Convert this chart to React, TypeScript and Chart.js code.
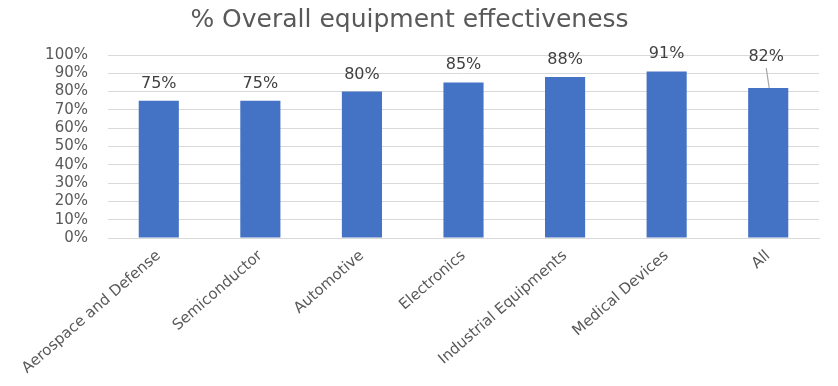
import React, { useEffect, useRef } from "react";
import { Chart, registerables } from "chart.js";

Chart.register(...registerables);

const categories = [
  "Aerospace and Defense",
  "Semiconductor",
  "Automotive",
  "Electronics",
  "Industrial Equipments",
  "Medical Devices",
  "All",
];
const oeeValues = [75, 75, 80, 85, 88, 91, 82];
const chartTitle = "% Overall equipment effectiveness";

const FONT = "'DejaVu Sans', sans-serif";

const dataLabelPlugin = {
  id: "dataLabels",
  afterDatasetsDraw(chart: any) {
    const ctx = chart.ctx;
    const meta = chart.getDatasetMeta(0);
    const data = chart.data.datasets[0].data as number[];
    ctx.save();
    ctx.font = `16px ${FONT}`;
    ctx.fillStyle = "#404040";
    ctx.textAlign = "center";
    ctx.textBaseline = "alphabetic";
    meta.data.forEach((bar: any, i: number) => {
      const text = `${data[i]}%`;
      const isLast = i === data.length - 1;
      if (isLast) {
        const lx = bar.x - 2;
        const ly = chart.chartArea.top + 6;
        ctx.fillText(text, lx, ly);
        ctx.strokeStyle = "#A6A6A6";
        ctx.lineWidth = 1.2;
        ctx.beginPath();
        ctx.moveTo(lx, ly + 7);
        ctx.lineTo(bar.x + 1, bar.y);
        ctx.stroke();
      } else {
        ctx.fillText(text, bar.x, bar.y - 13);
      }
    });
    ctx.restore();
  },
};

export default function App() {
  const ref = useRef<HTMLCanvasElement>(null);
  useEffect(() => {
    document.body.style.margin = "0";
    const chart = new Chart(ref.current!, {
      type: "bar",
      data: {
        labels: categories,
        datasets: [
          {
            data: oeeValues,
            backgroundColor: "#4472C4",
            borderWidth: 0,
            categoryPercentage: 1,
            barPercentage: 0.395,
          },
        ],
      },
      options: {
        animation: false,
        responsive: false,
        layout: { padding: { right: 19, left: 0, top: 0, bottom: 0 } },
        plugins: {
          legend: { display: false },
          tooltip: { enabled: false },
          title: {
            display: true,
            text: chartTitle,
            color: "#595959",
            font: { family: FONT, size: 25, weight: "normal" },
            padding: { top: 5, bottom: 20 },
          },
        },
        scales: {
          x: {
            grid: { display: false, drawTicks: false },
            border: { display: true, color: "#D9D9D9" },
            ticks: {
              color: "#595959",
              font: { family: FONT, size: 15 },
              minRotation: 41,
              maxRotation: 41,
              padding: 9,
              autoSkip: false,
            },
            afterFit(scale: any) {
              scale.height = 148;
            },
          },
          y: {
            min: 0,
            max: 100,
            grid: { color: "#D9D9D9", drawTicks: false },
            border: { display: false },
            ticks: {
              stepSize: 10,
              autoSkip: false,
              color: "#595959",
              font: { family: FONT, size: 15 },
              padding: 20,
              callback: (v: any) => `${v}%`,
            },
            afterFit(scale: any) {
              scale.width = 108;
            },
          },
        },
      },
      plugins: [dataLabelPlugin],
    });
    return () => chart.destroy();
  }, []);
  return <canvas ref={ref} width={838} height={386} />;
}
